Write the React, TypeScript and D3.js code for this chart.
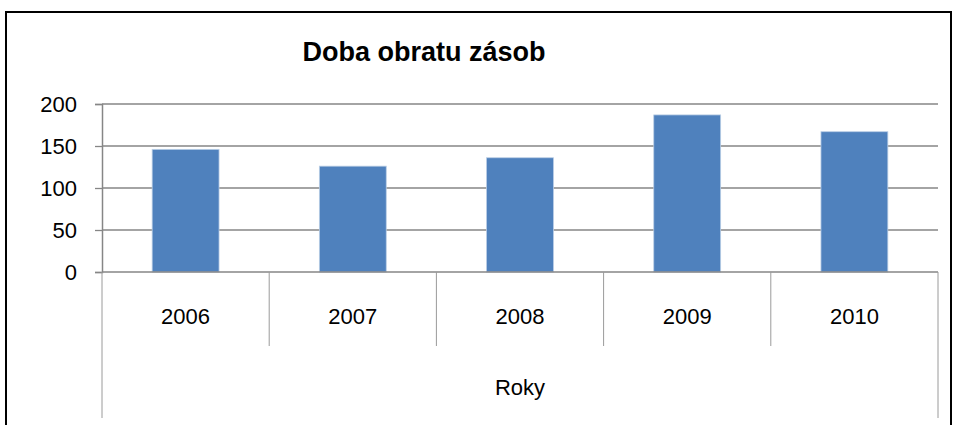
import React, { useEffect, useRef } from 'react';
import * as d3 from 'd3';

const years: string[] = ['2006', '2007', '2008', '2009', '2010'];
const values: number[] = [146, 126, 136, 187, 167];
const yTicks: number[] = [0, 50, 100, 150, 200];
const chartTitle = 'Doba obratu zásob';
const axisTitle = 'Roky';

const W = 957;
const H = 425;

const App: React.FC = () => {
  const ref = useRef<SVGSVGElement | null>(null);

  useEffect(() => {
    const svg = d3.select(ref.current);
    svg.selectAll('*').remove();

    const font = '"Liberation Sans", Arial, sans-serif';
    const left = 102;
    const right = 938;
    const top = 104;
    const bottom = 272;

    const x = d3.scaleBand<string>().domain(years).range([left, right]).paddingInner(0.6).paddingOuter(0.3);
    const y = d3.scaleLinear().domain([0, 200]).range([bottom, top]);

    // frame
    svg.append('rect')
      .attr('x', 6).attr('y', 12).attr('width', 945).attr('height', 430)
      .attr('fill', 'white').attr('stroke', '#000').attr('stroke-width', 2);

    svg.append('text')
      .attr('x', 424).attr('y', 61)
      .attr('text-anchor', 'middle')
      .attr('font-family', font).attr('font-weight', 'bold').attr('font-size', 27)
      .text(chartTitle);

    // gridlines
    svg.append('g').selectAll('line').data(yTicks.filter((d) => d > 0)).join('line')
      .attr('x1', left).attr('x2', right)
      .attr('y1', (d) => y(d)).attr('y2', (d) => y(d))
      .attr('stroke', '#868686').attr('stroke-width', 1.3);

    // y axis
    const yAxis = svg.append('g').attr('transform', `translate(${left},0)`)
      .call(d3.axisLeft(y).tickValues(yTicks).tickSize(7).tickPadding(18));
    yAxis.select('.domain').attr('stroke', '#868686').attr('stroke-width', 1.5);
    yAxis.selectAll('.tick line').attr('stroke', '#868686').attr('stroke-width', 1.3);
    yAxis.selectAll('.tick text')
      .attr('font-family', font).attr('font-size', 22).attr('fill', '#000');

    // bars
    svg.append('g').selectAll('rect').data(values).join('rect')
      .attr('x', (_, i) => x(years[i]) ?? 0)
      .attr('width', x.bandwidth())
      .attr('y', (d) => y(d))
      .attr('height', (d) => bottom - y(d))
      .attr('fill', '#4f81bd')
      .attr('stroke', '#b9cde5').attr('stroke-width', 0.8);

    // x axis line
    svg.append('line')
      .attr('x1', left).attr('x2', right).attr('y1', bottom).attr('y2', bottom)
      .attr('stroke', '#868686').attr('stroke-width', 1.5);

    // category separators
    const edges = d3.range(years.length + 1).map((i) => left + i * ((right - left) / years.length));
    svg.append('g').selectAll('line').data(edges).join('line')
      .attr('x1', (d) => d).attr('x2', (d) => d)
      .attr('y1', bottom)
      .attr('y2', (_, i) => (i === 0 || i === years.length ? 418 : 346))
      .attr('stroke', '#9a9a9a').attr('stroke-width', 1);

    svg.append('g').selectAll('text').data(years).join('text')
      .attr('x', (d) => (x(d) ?? 0) + x.bandwidth() / 2)
      .attr('y', 324)
      .attr('text-anchor', 'middle')
      .attr('font-family', font).attr('font-size', 22)
      .text((d) => d);

    svg.append('text')
      .attr('x', (left + right) / 2).attr('y', 395)
      .attr('text-anchor', 'middle')
      .attr('font-family', font).attr('font-size', 22)
      .text(axisTitle);
  }, []);

  return (
    <svg ref={ref} width={W} height={H} style={{ position: 'absolute', left: 0, top: 0 }} />
  );
};

export default App;
